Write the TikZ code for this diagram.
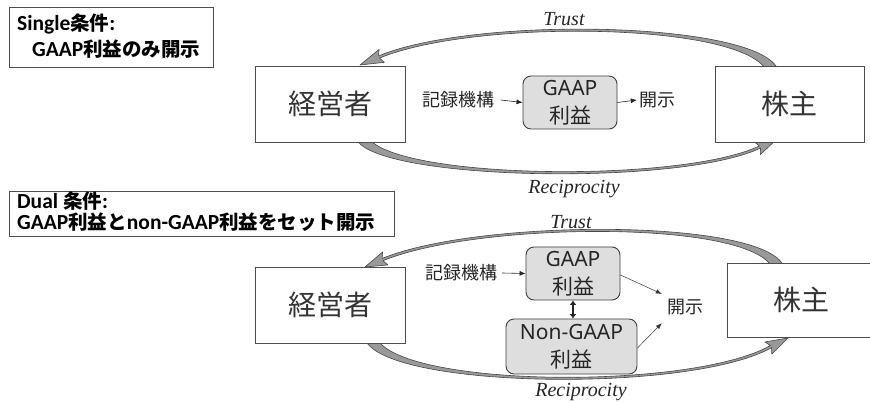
\documentclass[tikz,border=0pt]{standalone}
\usepackage{fontspec}
\setmainfont{Liberation Serif}
\newfontfamily\jpfont{Noto Sans CJK JP}
\newfontfamily\latfont{Carlito}
\newfontfamily\nsfont{Noto Sans}
\usetikzlibrary{calc,arrows.meta}

% tapered curved arrow: start, control 1, control 2, head base, tip,
% half-width at start, half-width near control 1, half-width of the head
\newcommand\swoosh[8]{%
  \path (#1) coordinate (sw0) (#2) coordinate (sw1) (#3) coordinate (sw2)
        (#4) coordinate (sw3) (#5) coordinate (swt);
  \path ($(sw3)!3pt!(sw2)$) coordinate (swb);
  \filldraw[swooshstyle]
    ($(sw0)!#6!90:(sw1)$) .. controls ($(sw1)!#7!-90:(sw0)$) and ($(sw2)!1.2pt!90:(sw3)$) .. ($(sw3)!1.2pt!-90:(sw2)$)
    -- ($(swb)!#8!-90:(sw2)$) -- (swt) -- ($(swb)!#8!90:(sw2)$)
    -- ($(sw3)!1.2pt!90:(sw2)$) .. controls ($(sw2)!1.2pt!-90:(sw3)$) and ($(sw1)!#7!90:(sw0)$) .. ($(sw0)!#6!-90:(sw1)$)
    -- cycle;
}

% bold label text: Latin and Japanese parts
\newcommand\condlat[1]{{\latfont\fontsize{21.5pt}{24pt}\selectfont #1}}
\newcommand\condjp[1]{{\jpfont\fontsize{19.5pt}{24pt}\selectfont #1}}

\tikzset{
  actor/.style={draw=black!70, line width=0.9pt, fill=white, minimum width=150pt,
    minimum height=76pt, inner sep=0pt, font=\jpfont\fontsize{28pt}{32pt}\selectfont, text=black!80},
  earn/.style={draw=black!75, line width=0.9pt, fill=black!13, rounded corners=8pt,
    inner sep=0pt, align=center, font=\fontsize{21pt}{28pt}\selectfont, text=black!85},
  note/.style={inner sep=0pt, font=\jpfont\fontsize{18pt}{22pt}\selectfont, text=black!85},
  relation/.style={inner sep=0pt, font=\fontsize{20pt}{24pt}\selectfont\itshape, text=black!85},
  condbox/.style={draw=black!70, line width=0.9pt, fill=white, inner sep=0pt},
  condtext/.style={inner sep=0pt, anchor=base west, font=\bfseries},
  conn/.style={line width=0.6pt, draw=black!85, -{Latex[length=6pt,width=5pt]}},
  thinconn/.style={line width=0.5pt, draw=black!80, -{Latex[length=6pt,width=4.5pt]}},
  both/.style={line width=2pt, draw=black!85, {Latex[length=4.5pt,width=7pt]}-{Latex[length=4.5pt,width=7pt]}},
  swooshstyle/.style={fill=black!40, draw=black!72, line width=0.6pt, line join=round},
}

\begin{document}
\begin{tikzpicture}[x=1pt,y=-1pt]
\useasboundingbox (0,0) rectangle (870,403);
\fill[white] (0,0) rectangle (870,403);

% ---------- Single condition ----------
\node[condbox, minimum width=204pt, minimum height=60pt] (condA) at (111,37) {};
\node[condtext] (condA1) at (17,30.5) {\condlat{Single}\condjp{条件}\condlat{:}};
\node[condtext] (condA2) at (32,56.5) {\condlat{GAAP}\condjp{利益のみ開示}};

\coordinate (mgApos) at (330,104);
\coordinate (shApos) at (789.5,104);

\swoosh{$(shApos)+(-17.5,-34)$}{750,22}{476,17}{379,57}{$(mgApos)+(30,-39)$}{5.5pt}{1.5pt}{7pt}
\swoosh{$(mgApos)+(32,34)$}{385,180}{680,185}{760,147}{$(shApos)+(-12.5,35)$}{5.5pt}{1.5pt}{7pt}

\node[actor] (mgA) at (mgApos) {経営者};
\node[actor, minimum width=149pt] (shA) at (shApos) {株主};

\node[note] (recA) at (458.5,100) {記録機構};
\node[earn, minimum width=94pt, minimum height=53pt] (gA) at (570,102.5) {{\nsfont GAAP}\\{\jpfont 利益}};
\node[note] (discA) at (657,100) {開示};
\draw[conn] ([xshift=6pt]recA.east) -- (gA.west);
\draw[conn] (gA.east) -- ([xshift=-2pt]discA.west);

\node[relation] (trustA) at (564,19) {Trust};
\node[relation] (recipA) at (574,189) {Reciprocity};

% ---------- Dual condition ----------
\node[condbox, minimum width=385pt, minimum height=45pt] (condB) at (201.5,213.5) {};
\node[condtext] (condB1) at (17,208.5) {\condlat{Dual }\condjp{条件}\condlat{:}};
\node[condtext] (condB2) at (17,230) {\condlat{GAAP}\condjp{利益と}\condlat{non-GAAP}\condjp{利益をセット開示}};

\coordinate (mgBpos) at (330,305);
\coordinate (shBpos) at (807,300);

\swoosh{$(shBpos)+(-29,-33)$}{756,219}{479,220}{382.5,259.6}{$(mgBpos)+(35,-38)$}{5.5pt}{1.5pt}{7pt}
\swoosh{$(mgBpos)+(41,34)$}{394,388}{690,392}{771,346.6}{$(shBpos)+(-19,38)$}{5.5pt}{1.5pt}{7pt}

\node[actor] (mgB) at (mgBpos) {経営者};
\node[actor, minimum width=160pt, minimum height=74pt] (shB) at (shBpos) {};
\node[inner sep=0pt, font=\jpfont\fontsize{28pt}{32pt}\selectfont, text=black!80] (shBt) at (801,300) {株主};

\node[note] (recB) at (461,273) {記録機構};
\node[earn, minimum width=94pt, minimum height=53pt] (gB) at (573,273.5) {{\nsfont GAAP}\\{\jpfont 利益}};
\node[earn, minimum width=131pt, minimum height=55pt] (ngB) at (571.5,346.5) {{\nsfont Non-GAAP}\\{\jpfont 利益}};
\node[note, inner sep=5pt] (discB) at (685,307) {開示};

\draw[conn] ([xshift=5pt]recB.east) -- (gB.west);
\draw[both] (gB.south) -- (gB.south |- ngB.north);
\draw[thinconn] ([yshift=-1.5pt]gB.east) -- (discB.north west);
\draw[thinconn] ([yshift=-1.5pt]ngB.east) -- ([yshift=-3pt]discB.south west);

\node[relation] (trustB) at (571,222) {Trust};
\node[relation] (recipB) at (581,392) {Reciprocity};
\end{tikzpicture}
\end{document}
